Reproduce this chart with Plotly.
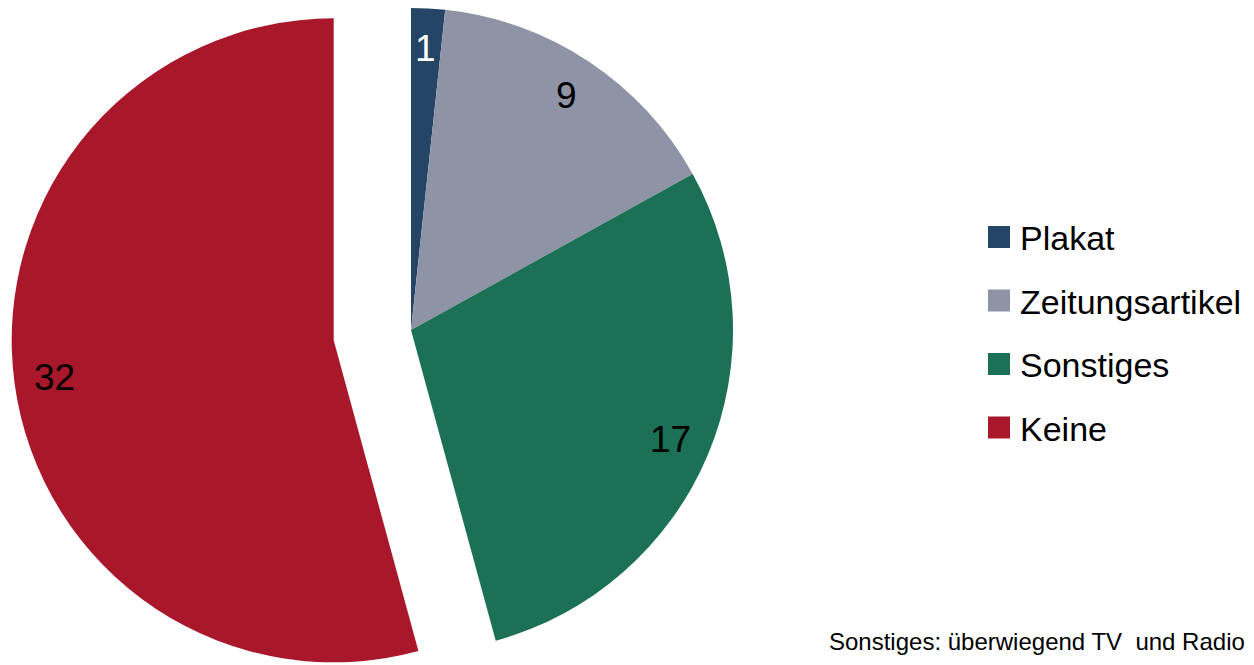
import math
import plotly.graph_objects as go

# Data
labels = ["Plakat", "Zeitungsartikel", "Sonstiges", "Keine"]
values = [1, 9, 17, 32]
colors = ["#244566", "#8F93A6", "#1C7055", "#A8172A"]
label_colors = ["white", "black", "black", "black"]
pulled_label = "Keine"
footnote = "Sonstiges: überwiegend TV  und Radio"

# Layout geometry (pixels)
W, H = 1254, 665
CX, CY, R = 411, 330, 322      # centre and radius of the pie
PULL_PX = 78                   # offset of the detached slice
LABEL_R = 0.875                # radial position of value labels
FONT = "Liberation Sans Narrow, Arial Narrow, Liberation Sans, Arial, sans-serif"

total = sum(values)
pull_idx = labels.index(pulled_label)

# mid-angle (clockwise from 12 o'clock) of every slice
mid_angles = []
acc = 0
for v in values:
    mid_angles.append((acc + v / 2) / total * 2 * math.pi)
    acc += v

# centre of the detached slice
a = mid_angles[pull_idx]
PCX = CX + PULL_PX * math.sin(a)
PCY = CY - PULL_PX * math.cos(a)


def domain(cx, cy):
    return dict(x=[(cx - R) / W, (cx + R) / W],
                y=[1 - (cy + R) / H, 1 - (cy - R) / H])


main_colors = [c if i != pull_idx else "rgba(0,0,0,0)" for i, c in enumerate(colors)]
pull_colors = [c if i == pull_idx else "rgba(0,0,0,0)" for i, c in enumerate(colors)]

fig = go.Figure()
fig.add_trace(go.Pie(
    labels=labels, values=values, sort=False, direction="clockwise", rotation=0,
    marker=dict(colors=main_colors, line=dict(width=0)),
    textinfo="none", hoverinfo="label+value", showlegend=False,
    domain=domain(CX, CY),
))
fig.add_trace(go.Pie(
    labels=labels, values=values, sort=False, direction="clockwise", rotation=0,
    marker=dict(colors=pull_colors, line=dict(width=0)),
    textinfo="none", hoverinfo="skip", showlegend=False,
    domain=domain(PCX, PCY),
))

annotations = []
shapes = []

# value labels
for i, (v, ang) in enumerate(zip(values, mid_angles)):
    cx, cy = (PCX, PCY) if i == pull_idx else (CX, CY)
    x = cx + LABEL_R * R * math.sin(ang)
    y = cy - LABEL_R * R * math.cos(ang)
    annotations.append(dict(
        x=x / W, y=1 - y / H, xref="paper", yref="paper",
        text=str(v), showarrow=False, xanchor="center", yanchor="middle",
        font=dict(family=FONT, size=37, color=label_colors[i]),
    ))

# legend
LEG_X, LEG_Y0, LEG_DY, SQ = 988, 237, 63.5, 22
for i, (lab, col) in enumerate(zip(labels, colors)):
    yc = LEG_Y0 + i * LEG_DY
    shapes.append(dict(
        type="rect", xref="paper", yref="paper",
        x0=LEG_X / W, x1=(LEG_X + SQ) / W,
        y0=1 - (yc + SQ / 2) / H, y1=1 - (yc - SQ / 2) / H,
        fillcolor=col, line=dict(width=0),
    ))
    annotations.append(dict(
        x=(LEG_X + SQ + 8) / W, y=1 - (yc + 1) / H, xref="paper", yref="paper",
        text=lab, showarrow=False, xanchor="left", yanchor="middle",
        font=dict(family=FONT, size=34, color="black"),
    ))

# footnote
annotations.append(dict(
    x=1247 / W, y=1 - 641 / H, xref="paper", yref="paper",
    text=footnote, showarrow=False, xanchor="right", yanchor="middle",
    font=dict(family=FONT, size=24, color="black"),
))

fig.update_layout(
    width=W, height=H,
    margin=dict(l=0, r=0, t=0, b=0),
    paper_bgcolor="white", plot_bgcolor="white",
    annotations=annotations, shapes=shapes,
    showlegend=False,
)

fig.write_html("out.html")
